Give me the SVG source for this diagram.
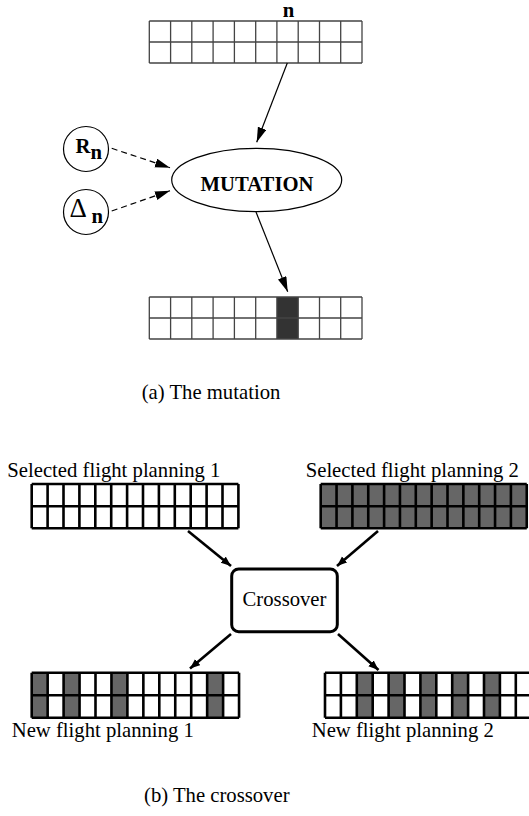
<svg xmlns="http://www.w3.org/2000/svg" width="529" height="816" viewBox="0 0 529 816">
<style>
.lbl{font-family:"Liberation Serif","Times New Roman",serif;font-size:20.7px;fill:#000}
.bold{font-weight:bold}
.thin{fill:none;stroke:#444;stroke-width:1.3}
.thick{fill:none;stroke:#000;stroke-width:2.6}
.edge{fill:none;stroke:#000;stroke-width:1.2}
.dash{fill:none;stroke:#000;stroke-width:1.2;stroke-dasharray:6,4}
.xedge{fill:none;stroke:#000;stroke-width:2.6}
</style>
<defs>
<marker id="ah" markerUnits="userSpaceOnUse" markerWidth="16" markerHeight="10" refX="15" refY="4.5" orient="auto">
<path d="M0,0 L15,4.5 L0,9 Z" fill="#000"/>
</marker>
<marker id="ah2" markerUnits="userSpaceOnUse" markerWidth="11" markerHeight="9" refX="10" refY="4" orient="auto">
<path d="M0,0 L10,4 L0,8 Z" fill="#000"/>
</marker>
</defs>

<g id="top-label"><text class="lbl bold" x="288.5" y="17" text-anchor="middle" font-size="18">n</text></g>

<g id="top-grid">
<rect x="149.3" y="21" width="212.7" height="42" fill="#fff"/>
<path class="thin" d="M149.3,21H362M149.3,42H362M149.3,63H362M149.3,21V63M170.6,21V63M191.8,21V63M213.1,21V63M234.4,21V63M255.7,21V63M276.9,21V63M298.2,21V63M319.5,21V63M340.7,21V63M362,21V63"/>
</g>

<g id="Rn">
<circle cx="86" cy="149" r="22.5" fill="#fff" stroke="#000" stroke-width="1.2"/>
<text class="lbl bold" x="75.5" y="153.3" font-size="20">R</text>
<text class="lbl bold" x="90.5" y="159" font-size="20">n</text>
</g>

<g id="Deltan">
<circle cx="86" cy="212" r="22.5" fill="#fff" stroke="#000" stroke-width="1.2"/>
<text x="69.5" y="217" font-family="'Liberation Serif','DejaVu Serif',serif" font-size="27" fill="#000">Δ</text>
<text class="lbl bold" x="91.5" y="222.7" font-size="20">n</text>
</g>

<g id="mutation">
<ellipse cx="256.7" cy="180" rx="85" ry="31.7" fill="#fff" stroke="#000" stroke-width="1.2"/>
<text class="lbl bold" x="257" y="191" text-anchor="middle" font-size="21">MUTATION</text>
</g>

<g id="bottom-grid">
<rect x="149.3" y="297" width="212.7" height="42" fill="#fff"/>
<rect x="276.9" y="297" width="21.3" height="42" fill="#333"/>
<path class="thin" d="M149.3,297H362M149.3,318H362M149.3,339H362M149.3,297V339M170.6,297V339M191.8,297V339M213.1,297V339M234.4,297V339M255.7,297V339M276.9,297V339M298.2,297V339M319.5,297V339M340.7,297V339M362,297V339"/>
</g>

<g id="caption-a"><text class="lbl" x="141.7" y="399.3">(a) The mutation</text></g>

<g id="sel1">
<text class="lbl" x="7.3" y="476.7">Selected flight planning 1</text>
<rect x="31.7" y="484" width="206.7" height="44.3" fill="#fff"/>
<path class="thick" d="M31.7,484H238.4M31.7,506.2H238.4M31.7,528.3H238.4M31.7,484V528.3M47.6,484V528.3M63.5,484V528.3M79.4,484V528.3M95.3,484V528.3M111.2,484V528.3M127.1,484V528.3M143,484V528.3M158.9,484V528.3M174.8,484V528.3M190.7,484V528.3M206.6,484V528.3M222.5,484V528.3M238.4,484V528.3"/>
</g>

<g id="sel2">
<text class="lbl" x="305.7" y="476.7">Selected flight planning 2</text>
<rect x="320.7" y="484" width="206" height="44.3" fill="#666"/>
<path class="thick" d="M320.7,484H526.75M320.7,506.2H526.75M320.7,528.3H526.75M320.7,484V528.3M336.55,484V528.3M352.4,484V528.3M368.25,484V528.3M384.1,484V528.3M399.95,484V528.3M415.8,484V528.3M431.65,484V528.3M447.5,484V528.3M463.35,484V528.3M479.2,484V528.3M495.05,484V528.3M510.9,484V528.3M526.75,484V528.3"/>
</g>

<g id="crossover">
<rect x="231.7" y="569" width="105.6" height="62.7" rx="7" fill="#fff" stroke="#000" stroke-width="3"/>
<text class="lbl" x="284.5" y="606" text-anchor="middle">Crossover</text>
</g>

<g id="new1">
<rect x="31.7" y="672.7" width="207.35" height="45" fill="#fff"/>
<rect x="31.7" y="672.7" width="15.95" height="45" fill="#666"/>
<rect x="63.6" y="672.7" width="15.95" height="45" fill="#666"/>
<rect x="111.45" y="672.7" width="15.95" height="45" fill="#666"/>
<rect x="207.15" y="672.7" width="15.95" height="45" fill="#666"/>
<path class="thick" d="M31.7,672.7H239.05M31.7,695.2H239.05M31.7,717.7H239.05M31.7,672.7V717.7M47.65,672.7V717.7M63.6,672.7V717.7M79.55,672.7V717.7M95.5,672.7V717.7M111.45,672.7V717.7M127.4,672.7V717.7M143.35,672.7V717.7M159.3,672.7V717.7M175.25,672.7V717.7M191.2,672.7V717.7M207.15,672.7V717.7M223.1,672.7V717.7M239.05,672.7V717.7"/>
<text class="lbl" x="11.7" y="737.3">New flight planning 1</text>
</g>

<g id="new2">
<rect x="325" y="672.7" width="206.7" height="45" fill="#fff"/>
<rect x="356.8" y="672.7" width="15.9" height="45" fill="#666"/>
<rect x="388.6" y="672.7" width="15.9" height="45" fill="#666"/>
<rect x="420.4" y="672.7" width="15.9" height="45" fill="#666"/>
<rect x="452.2" y="672.7" width="15.9" height="45" fill="#666"/>
<rect x="484" y="672.7" width="15.9" height="45" fill="#666"/>
<path class="thick" d="M325,672.7H531.7M325,695.2H531.7M325,717.7H531.7M325,672.7V717.7M340.9,672.7V717.7M356.8,672.7V717.7M372.7,672.7V717.7M388.6,672.7V717.7M404.5,672.7V717.7M420.4,672.7V717.7M436.3,672.7V717.7M452.2,672.7V717.7M468.1,672.7V717.7M484,672.7V717.7M499.9,672.7V717.7M515.8,672.7V717.7M531.7,672.7V717.7"/>
<text class="lbl" x="311.7" y="737.3">New flight planning 2</text>
</g>

<g id="caption-b"><text class="lbl" x="144" y="802">(b) The crossover</text></g>

<g id="connectors">
<line class="edge" x1="287.3" y1="63" x2="256.7" y2="142.3" marker-end="url(#ah)"/>
<line class="edge" x1="256" y1="212" x2="287.7" y2="291.7" marker-end="url(#ah)"/>
<line class="dash" x1="111.7" y1="148.3" x2="170" y2="167.7" marker-end="url(#ah)"/>
<line class="dash" x1="111.7" y1="211" x2="170" y2="190.7" marker-end="url(#ah)"/>
<line class="xedge" x1="188" y1="531" x2="231" y2="566" marker-end="url(#ah2)"/>
<line class="xedge" x1="378" y1="531" x2="337" y2="566" marker-end="url(#ah2)"/>
<line class="xedge" x1="231" y1="634" x2="190" y2="668.5" marker-end="url(#ah2)"/>
<line class="xedge" x1="338" y1="634" x2="378.5" y2="670" marker-end="url(#ah2)"/>
</g>
</svg>
